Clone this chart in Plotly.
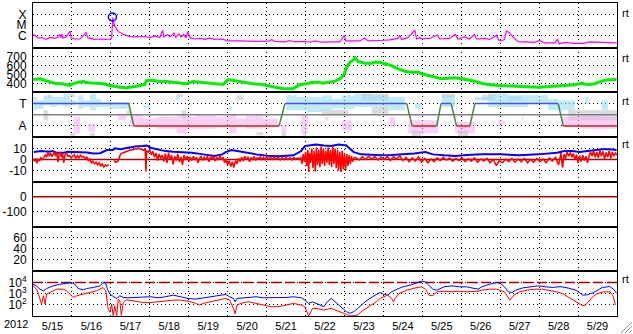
import pandas as pd
import plotly.graph_objects as go
from plotly.subplots import make_subplots

# ---------------- data (time = day of May 2012, fractional) ----------------
xray_day = [15.01,15.08,15.14,15.23,15.33,15.44,15.56,15.64,15.69,15.72,
            15.74,15.77,15.85,15.95,15.98,16.08,16.21,16.36,16.41,16.59,
            16.72,16.85,16.98,17.02,17.035,17.05,17.07,17.10,17.19,17.32,
            17.49,17.66,17.87,18.00,18.13,18.26,18.33,18.36,18.46,18.52,
            18.62,18.67,18.75,18.80,18.87,18.93,18.98,19.03,19.16,19.29,
            19.41,19.54,19.67,19.80,19.90,19.98,20.31,20.57,20.83,21.08,
            21.13,21.21,21.47,21.59,21.72,21.98,22.11,22.24,22.42,22.62,
            22.88,23.00,23.03,23.13,23.39,23.52,23.60,23.90,24.16,24.38,
            24.42,24.47,24.62,24.81,24.85,24.93,24.98,25.19,25.39,25.44,
            25.70,25.85,25.91,26.09,26.21,26.34,26.39,26.60,26.73,26.91,
            26.96,27.03,27.11,27.16,27.24,27.34,27.46,27.62,27.88,28.01,
            28.14,28.40,28.47,28.52,28.65,28.91,29.16,29.29,29.55,29.81,
            29.99]
xray_log10 = [-5.85,-6.10,-6.24,-6.15,-6.33,-6.15,-6.24,-6.10,-5.87,-6.19,
              -5.82,-6.19,-6.10,-5.55,-6.19,-6.29,-6.29,-5.70,-6.19,-6.33,
              -6.29,-6.33,-6.29,-6.20,-5.00,-4.29,-4.70,-5.08,-5.61,-5.85,
              -6.07,-6.10,-6.06,-6.19,-6.01,-6.15,-5.48,-6.10,-5.87,-6.10,
              -5.73,-6.15,-5.80,-6.10,-5.87,-6.19,-5.61,-6.19,-6.29,-6.24,
              -6.33,-6.22,-6.33,-6.29,-6.33,-6.47,-6.47,-6.52,-6.52,-6.47,
              -6.33,-6.52,-6.56,-6.43,-6.56,-6.52,-6.59,-6.47,-6.59,-6.56,
              -6.56,-5.94,-6.47,-6.47,-6.47,-6.19,-6.47,-6.43,-6.38,-6.24,
              -5.94,-6.33,-6.19,-5.48,-6.29,-6.15,-6.29,-6.24,-5.92,-6.29,
              -6.24,-5.87,-6.29,-6.10,-6.29,-5.87,-6.29,-6.24,-6.33,-5.94,
              -6.38,-6.47,-6.33,-5.55,-5.73,-6.15,-6.54,-6.56,-6.61,-6.43,
              -6.66,-6.66,-6.33,-6.75,-6.61,-6.70,-6.70,-6.56,-6.61,-6.66,
              -6.66]
flare_day = [17.04]
flare_log10 = [-4.25]

speed_day = [15.01,15.18,15.31,15.44,15.56,15.74,15.86,15.95,16.03,16.16,
             16.29,16.42,16.63,16.80,16.98,17.10,17.23,17.40,17.53,17.66,
             17.87,17.92,18.09,18.26,18.43,18.60,18.77,18.94,19.11,19.29,
             19.46,19.71,19.88,20.01,20.14,20.31,20.48,20.65,20.91,21.08,
             21.25,21.42,21.68,21.77,21.85,22.02,22.19,22.36,22.42,22.59,
             22.76,22.89,22.97,23.06,23.14,23.23,23.27,23.36,23.53,23.70,
             23.78,23.91,24.04,24.21,24.38,24.55,24.73,24.90,24.98,25.15,
             25.32,25.50,25.67,25.84,26.01,26.18,26.35,26.52,26.69,26.95,
             27.21,27.55,27.98,28.40,28.66,28.92,29.09,29.26,29.43,29.60,
             29.77,29.99]
speed_val = [444,452,433,414,403,397,389,378,397,414,
             422,408,403,397,378,367,359,352,359,370,
             389,433,433,422,422,414,408,397,422,414,
             408,397,389,444,433,422,408,397,386,370,
             352,341,341,367,386,397,414,414,403,414,
             426,452,489,581,637,663,686,644,626,626,
             637,637,619,600,563,537,526,526,508,489,
             470,452,459,463,452,441,426,403,389,378,
             370,367,359,367,378,386,403,386,397,426,
             441,444]

sector_day = [15.00,17.46,17.59,21.32,21.47,24.60,24.74,25.37,25.48,25.74,25.88,26.22,26.35,28.49,28.62,30.00]
sector_val = [1,1,-1,-1,1,1,-1,-1,1,1,-1,-1,1,1,-1,-1]

# (start day, end day, low, high) of the scattered angle points
blue_cells = [(15.01,15.09,0.40,1.59),(15.09,15.27,0.55,1.29),(15.27,15.44,0.85,1.74),(15.44,15.61,0.70,1.59),
              (15.61,15.78,0.85,1.59),(15.78,15.95,0.70,1.89),(15.95,16.12,0.85,1.29),(16.16,16.29,0.55,1.74),
              (16.29,16.46,0.70,1.29),(16.46,16.63,0.40,1.89),(16.63,16.76,0.70,1.44),(16.76,16.98,0.70,1.15),
              (16.98,17.49,0.55,1.15),(17.83,18.00,0.64,0.85),(18.67,18.74,1.29,1.74),(20.04,20.11,0.40,0.76),
              (21.51,21.77,0.40,1.74),(21.77,22.02,0.40,1.59),(22.02,22.42,0.25,1.59),(22.42,22.67,0.40,1.74),
              (22.67,22.93,0.55,1.44),(22.93,23.27,0.55,1.74),(23.27,23.70,0.70,1.89),(23.70,24.13,0.70,1.74),
              (24.13,24.55,0.40,1.59),(24.81,24.98,0.55,1.00),(25.50,25.84,0.70,1.74),(26.35,26.69,1.29,1.59),
              (26.69,27.21,0.70,1.89),(27.21,27.72,0.70,1.74),(27.72,28.23,1.00,1.74),(28.23,28.49,0.40,1.44),
              (28.49,28.92,0.40,1.29),(29.17,29.26,1.00,1.59),(29.60,29.77,0.40,1.29)]
pink_cells = [(16.04,16.21,-1.68,-0.19),(16.42,16.59,-1.53,-0.79),(17.19,17.40,-0.49,-0.04),(17.49,17.83,-1.09,-0.04),
              (17.83,18.17,-1.09,-0.34),(18.17,18.69,-1.24,-0.19),(18.69,18.94,-1.68,0.10),(18.94,19.20,-1.24,-0.19),
              (19.20,19.71,-1.24,-0.04),(19.71,20.06,-1.09,-0.19),(20.06,20.23,-1.68,0.10),(20.23,20.48,-1.09,-0.34),
              (20.48,20.91,-1.24,-0.04),(20.91,21.30,-1.09,-0.34),(21.38,21.51,-1.68,-0.94),(21.89,22.06,-1.68,-0.04),
              (22.50,22.59,-0.49,-0.19),(22.93,23.19,-1.38,-0.49),(24.17,24.30,-1.09,-0.19),(24.64,25.41,-1.68,-0.49),
              (25.84,26.35,-1.68,-0.64),(26.95,27.12,-0.85,-0.49),(27.55,27.59,-0.49,-0.19),(28.58,29.09,-1.09,-0.19),
              (29.09,29.60,-1.24,-0.04),(29.60,29.99,-1.24,-0.19)]
gray_cells = [(15.27,15.39,-0.49,0.40),(15.39,15.48,1.53,1.80),(15.95,16.08,1.59,1.89),(15.95,16.08,-2.0,-1.62),
              (16.46,16.59,-2.0,-1.62),(17.40,17.49,-0.04,0.40),(18.69,18.86,1.59,1.89),(18.82,18.94,-0.34,0.40),
              (20.23,20.40,1.29,1.74),(20.74,20.91,-1.83,-1.53),(21.38,21.51,-2.0,-1.62),(21.94,22.02,-2.0,-1.68),
              (22.42,23.10,-0.04,0.46),(23.44,24.13,1.29,1.89),(23.70,24.13,0.10,0.70),(24.73,24.98,-2.0,-1.38),
              (25.50,25.84,1.53,1.89),(25.92,26.18,-2.0,-1.38),(26.52,26.86,1.29,1.80),(27.21,27.55,1.29,1.65),
              (28.75,29.99,-0.49,0.40)]

bt_points = [(15.02,6.8),(15.21,7.7),(15.41,7.1),(15.50,7.7),(15.60,6.2),(15.79,6.2),(15.89,7.1),(15.99,7.1),
             (16.18,7.1),(16.39,6.5),(16.55,5.6),(16.72,5.8),(16.90,8.7),(17.05,8.7),(17.10,10.2),(17.25,9.5),
             (17.44,10.8),(17.63,12.0),(17.82,12.3),(17.92,12.9),(18.02,10.8),(18.21,9.3),(18.40,7.7),(18.60,7.1),
             (18.79,6.8),(19.08,6.2),(19.37,4.7),(19.66,3.2),(19.86,4.7),(19.95,6.8),(20.10,8.7),(20.24,7.7),
             (20.44,6.2),(20.73,4.7),(21.02,3.5),(21.31,3.0),(21.50,3.5),(21.69,3.8),(21.89,7.7),(21.98,12.3),
             (22.08,12.9),(22.27,13.8),(22.47,12.9),(22.66,12.3),(22.85,13.8),(23.05,12.9),(23.14,9.9),(23.24,6.8),
             (23.43,4.7),(23.63,4.1),(23.92,3.8),(24.21,4.1),(24.50,4.7),(24.79,5.6),(25.08,6.8),(25.27,4.7),
             (25.56,3.8),(25.85,3.2),(26.14,4.1),(26.53,4.7),(27.01,4.7),(27.49,3.8),(27.98,4.7),(28.46,6.2),
             (28.66,7.7),(28.85,7.7),(29.04,6.8),(29.24,7.7),(29.43,8.7),(29.62,9.3),(29.82,9.3),(29.99,8.7)]

bz_points = [(15.00,0.5),(15.04,-1.5),(15.07,1.0),(15.10,-3.5),(15.13,0.0),(15.17,-1.0),(15.20,1.5),(15.24,0.0),
             (15.28,2.0),(15.32,4.5),(15.35,2.0),(15.38,6.5),(15.42,3.0),(15.45,6.0),(15.49,2.5),(15.52,5.5),
             (15.55,7.0),(15.58,3.0),(15.61,6.5),(15.64,-2.5),(15.67,5.0),(15.70,6.5),(15.73,2.0),(15.76,6.0),
             (15.79,-3.0),(15.82,4.0),(15.86,6.0),(15.90,3.0),(15.94,3.5),(15.98,1.5),(16.02,3.0),(16.06,4.5),
             (16.10,1.0),(16.14,3.5),(16.18,1.5),(16.22,4.0),(16.26,2.0),(16.30,3.0),(16.34,0.5),(16.38,2.5),
             (16.42,-1.0),(16.46,0.5),(16.50,-3.0),(16.54,-1.5),(16.58,-4.0),(16.62,-2.5),(16.66,-5.0),(16.70,-3.0),
             (16.74,-6.0),(16.78,-4.0),(16.82,-7.0),(16.86,-5.0),(16.90,-6.0),(16.94,-4.5),(16.98,None),
             (17.08,-1.0),(17.13,-2.5),(17.18,-1.5),(17.25,5.0),(17.30,6.0),(17.36,7.0),(17.42,8.0),(17.48,8.5),
             (17.55,9.0),(17.62,9.5),(17.70,10.0),(17.78,9.5),(17.84,8.5),(17.88,10.0),(17.90,-11.0),(17.92,8.0),
             (17.96,7.0),(18.00,9.0),(18.04,4.0),(18.08,7.5),(18.12,2.0),(18.16,6.0),(18.20,-1.0),(18.24,5.0),
             (18.28,1.0),(18.32,4.0),(18.36,-2.0),(18.40,5.5),(18.44,-3.0),(18.48,6.0),(18.52,0.0),(18.56,4.0),
             (18.60,-4.5),(18.64,3.0),(18.68,-1.0),(18.72,5.0),(18.76,-2.5),(18.80,2.5),(18.84,-5.0),(18.88,4.0),
             (18.92,0.0),(18.96,3.0),(19.00,-2.0),(19.04,2.5),(19.08,-1.0),(19.12,3.0),(19.16,0.0),(19.20,2.0),
             (19.24,-3.0),(19.28,1.0),(19.32,3.0),(19.36,-1.0),(19.40,2.0),(19.44,0.0),(19.48,3.0),(19.52,-2.0),
             (19.56,2.5),(19.60,0.5),(19.64,3.0),(19.68,-1.5),(19.72,2.0),(19.76,-0.5),(19.80,3.5),(19.84,0.0),
             (19.88,2.0),(19.92,-3.0),(19.96,0.0),(20.00,-5.0),(20.04,-1.0),(20.08,-6.5),(20.12,-2.0),(20.16,-7.5),
             (20.20,-1.0),(20.24,-4.0),(20.28,1.0),(20.32,-2.0),(20.36,2.0),(20.40,-1.5),(20.44,3.0),(20.48,0.0),
             (20.52,2.5),(20.56,-2.0),(20.60,2.0),(20.64,0.0),(20.68,3.0),(20.72,-1.0),(20.76,1.5),(20.80,0.5),
             (20.84,2.5),(20.88,0.0),(20.92,2.0),(20.96,-0.5),(21.00,2.5),(21.05,0.5),(21.10,2.0),(21.15,0.0),
             (21.20,2.5),(21.25,0.5),(21.30,2.0),(21.35,-0.5),(21.40,1.5),(21.45,0.0),(21.50,2.0),(21.55,0.0),
             (21.60,1.5),(21.65,-0.5),(21.70,2.0),(21.75,0.5),(21.80,1.5),(21.84,0.0),(21.88,2.0),(21.91,-4.0),
             (21.94,5.0),(21.97,-2.0),(22.00,7.0),(22.03,-6.0),(22.06,9.0),(22.08,-11.5),(22.10,6.0),(22.13,-3.0),
             (22.16,10.0),(22.19,-8.0),(22.22,8.0),(22.25,-11.0),(22.28,11.0),(22.31,-5.0),(22.34,9.0),(22.37,-7.0),
             (22.40,12.0),(22.43,-4.0),(22.46,10.0),(22.49,-6.0),(22.52,8.0),(22.55,-3.0),(22.58,11.0),(22.61,-5.0),
             (22.64,9.0),(22.67,-7.0),(22.70,12.0),(22.73,-4.0),(22.76,10.0),(22.79,-8.0),(22.82,9.0),(22.85,-10.0),
             (22.88,7.0),(22.91,-11.5),(22.94,8.0),(22.97,-9.0),(23.00,6.0),(23.03,-10.0),(23.06,5.0),(23.09,-6.0),
             (23.12,4.0),(23.15,-4.0),(23.18,3.0),(23.21,-2.0),(23.25,2.0),(23.30,1.5),(23.38,-0.5),(23.46,2.5),
             (23.54,0.0),(23.62,3.0),(23.70,0.5),(23.78,2.5),(23.86,-0.5),(23.94,2.0),(24.02,0.0),(24.10,3.0),
             (24.18,-1.0),(24.26,2.5),(24.34,0.5),(24.42,3.5),(24.50,-1.0),(24.58,2.0),(24.66,-2.0),(24.74,1.5),
             (24.82,-1.5),(24.90,2.5),(24.98,-2.5),(25.06,1.0),(25.14,-3.0),(25.22,0.5),(25.30,-2.0),(25.38,1.5),
             (25.46,-1.0),(25.54,2.0),(25.62,-0.5),(25.70,1.5),(25.78,-1.5),(25.86,1.0),(25.94,-1.0),(26.02,1.5),
             (26.10,-2.0),(26.18,1.0),(26.26,-1.5),(26.34,1.5),(26.42,-2.5),(26.50,0.5),(26.58,-1.5),(26.66,1.0),
             (26.74,-3.0),(26.82,0.0),(26.90,-5.5),(26.98,-1.0),(27.06,-3.0),(27.14,0.5),(27.22,-2.0),(27.30,1.0),
             (27.38,-2.5),(27.46,0.5),(27.54,-2.0),(27.62,1.0),(27.70,-3.0),(27.78,0.0),(27.86,-2.5),(27.94,1.0),
             (28.02,-2.0),(28.10,0.5),(28.18,-3.0),(28.26,1.5),(28.34,-1.5),(28.42,2.0),(28.50,-5.0),(28.56,6.0),
             (28.60,-7.5),(28.64,5.0),(28.68,1.0),(28.72,7.0),(28.76,3.0),(28.80,6.5),(28.84,2.0),(28.88,5.5),
             (28.92,0.0),(28.96,4.5),(29.00,-3.0),(29.04,3.5),(29.08,-2.0),(29.12,4.0),(29.16,-1.0),(29.20,3.0),
             (29.24,-3.0),(29.28,2.5),(29.32,7.0),(29.36,3.0),(29.40,8.0),(29.44,2.0),(29.48,7.0),(29.52,1.5),
             (29.56,8.5),(29.60,3.0),(29.64,7.5),(29.68,0.5),(29.72,6.5),(29.76,2.0),(29.80,8.0),(29.84,1.0),
             (29.88,7.0),(29.92,3.0),(29.96,6.0),(30.00,4.0)]

# electron flux, log10 values
e_blue_points = [(15.00,3.84),(15.09,3.70),(15.18,3.40),(15.27,3.25),(15.35,3.46),(15.52,3.70),(15.69,3.84),
                 (15.86,3.93),(15.99,3.99),(16.08,3.84),(16.16,3.46),(16.29,3.34),(16.38,3.46),(16.55,3.55),
                 (16.72,3.70),(16.80,3.99),(16.87,3.93),(16.91,3.40),(16.98,2.96),(17.06,2.75),(17.15,2.57),
                 (17.23,2.81),(17.32,2.66),(17.44,2.63),(17.63,2.63),(17.82,2.69),(18.02,2.72),(18.21,2.63),
                 (18.40,2.72),(18.60,2.87),(18.79,2.72),(18.98,2.57),(19.18,2.51),(19.37,2.63),(19.56,2.72),
                 (19.76,2.87),(19.95,2.93),(20.05,2.72),(20.15,2.57),(20.19,2.27),(20.24,2.57),(20.44,2.63),
                 (20.73,2.72),(20.92,2.63),(21.21,2.63),(21.50,2.66),(21.69,2.72),(21.89,2.63),(21.98,2.42),
                 (22.08,2.13),(22.18,2.27),(22.27,2.13),(22.37,1.98),(22.47,1.83),(22.56,2.27),(22.66,2.57),
                 (22.76,2.27),(22.85,1.98),(22.95,1.68),(23.05,1.39),(23.14,1.24),(23.24,1.39),(23.34,1.68),
                 (23.43,1.98),(23.53,2.27),(23.63,2.51),(23.72,2.72),(23.82,2.93),(23.92,3.10),(24.01,2.93),
                 (24.11,2.87),(24.21,3.16),(24.35,3.40),(24.50,3.61),(24.69,3.76),(24.79,3.90),(24.88,4.05),
                 (24.98,4.12),(25.08,4.05),(25.17,3.76),(25.27,3.40),(25.37,3.31),(25.46,3.46),(25.56,3.61),
                 (25.76,3.70),(25.95,3.61),(26.14,3.61),(26.34,3.46),(26.43,3.40),(26.53,3.61),(26.72,3.84),
                 (26.91,3.99),(27.01,3.90),(27.11,3.61),(27.21,3.16),(27.30,3.10),(27.40,3.31),(27.59,3.52),
                 (27.79,3.61),(27.98,3.70),(28.17,3.61),(28.37,3.55),(28.46,3.60),(28.56,3.62),(28.75,3.50),
                 (28.95,3.30),(29.12,2.87),(29.24,2.90),(29.40,3.10),(29.62,3.55),(29.81,3.64),(29.91,3.40),
                 (29.99,3.04)]
e_red_points = [(15.00,3.70),(15.09,3.40),(15.14,2.96),(15.18,2.51),(15.22,2.07),(15.27,2.81),(15.31,2.07),
                (15.35,2.96),(15.44,3.10),(15.61,3.40),(15.78,3.40),(15.86,3.25),(15.95,2.96),(16.03,2.66),
                (16.12,2.81),(16.29,2.96),(16.46,3.10),(16.63,3.25),(16.72,3.40),(16.80,3.55),(16.87,3.25),
                (16.89,2.51),(16.93,1.62),(16.98,1.33),(17.02,2.07),(17.06,1.03),(17.10,1.92),(17.15,1.03),
                (17.19,2.51),(17.23,2.36),(17.27,1.03),(17.32,2.21),(17.40,2.45),(17.57,2.36),(17.74,2.27),
                (17.82,2.20),(18.02,2.20),(18.21,2.27),(18.40,2.33),(18.60,2.42),(18.79,2.42),(18.98,2.33),
                (19.18,2.13),(19.27,1.98),(19.37,2.13),(19.56,2.27),(19.76,2.42),(19.95,2.57),(20.05,2.42),
                (20.15,1.68),(20.19,1.20),(20.24,1.98),(20.34,2.13),(20.53,2.27),(20.73,2.13),(20.92,1.98),
                (21.11,1.83),(21.31,1.83),(21.50,1.98),(21.69,2.13),(21.89,1.98),(21.98,1.83),(22.08,1.00),
                (22.18,1.68),(22.27,1.68),(22.47,1.53),(22.66,1.68),(22.76,1.53),(22.85,1.39),(22.95,1.24),
                (23.05,1.09),(23.14,1.02),(23.24,1.02),(23.34,1.09),(23.43,1.39),(23.53,1.62),(23.63,1.83),
                (23.72,1.98),(23.82,2.27),(23.92,2.57),(24.01,2.72),(24.11,2.87),(24.21,2.57),(24.26,2.27),
                (24.30,2.57),(24.40,3.01),(24.50,3.16),(24.59,3.31),(24.79,3.49),(24.98,3.61),(25.08,3.40),
                (25.17,2.87),(25.27,2.81),(25.37,3.16),(25.56,3.22),(25.76,3.16),(25.95,3.22),(26.14,3.16),
                (26.43,3.22),(26.53,3.31),(26.72,3.40),(26.91,3.40),(27.11,3.16),(27.21,2.57),(27.25,2.42),
                (27.35,2.87),(27.49,3.16),(27.69,3.31),(27.88,3.40),(28.08,3.40),(28.27,3.31),(28.46,3.16),
                (28.60,3.00),(28.75,2.70),(28.90,2.35),(29.04,2.05),(29.12,1.92),(29.19,1.98),(29.27,2.30),
                (29.40,2.80),(29.50,3.00),(29.65,3.16),(29.82,3.16),(29.90,2.80),(29.96,1.98)]

e_threshold = 1e4
zero_level = 0

assert len(xray_day) == len(xray_log10)
assert len(speed_day) == len(speed_val)
assert len(sector_day) == len(sector_val)

# ---------------- helpers ----------------
BASE = pd.Timestamp("2012-05-01")
def t(d):
    return BASE + pd.to_timedelta(d - 1, unit="D")

T0, T1 = t(15.0), t(30.0)

def cell_polys(cells):
    xs, ys = [], []
    for a, b, lo, hi in cells:
        xs += [t(a), t(b), t(b), t(a), t(a), None]
        ys += [lo, lo, hi, hi, lo, None]
    return xs, ys

FONT = "Liberation Sans, Arial, Helvetica, sans-serif"
DOT = "1px,3px"

fig = make_subplots(rows=7, cols=1, shared_xaxes=True, vertical_spacing=0)

# row 1: X-ray
fig.add_trace(go.Scatter(x=[t(d) for d in xray_day], y=[10 ** v for v in xray_log10], mode="lines",
                         line=dict(color="#ff00ff", width=1.2)), row=1, col=1)
fig.add_trace(go.Scatter(x=[t(d) for d in flare_day], y=[10 ** v for v in flare_log10], mode="markers",
                         marker=dict(symbol="circle-open", size=8, color="#0000ff", line=dict(width=1.5))),
              row=1, col=1)

# row 2: solar wind speed
fig.add_trace(go.Scatter(x=[t(d) for d in speed_day], y=speed_val, mode="lines",
                         line=dict(color="#00ee00", width=3)), row=2, col=1)

# row 3: sector panel (scattered angle points shown as pale patches)
for cells, col in [(gray_cells, "rgba(190,190,190,0.55)"), (blue_cells, "rgba(150,220,246,0.6)"),
                   (pink_cells, "rgba(244,170,244,0.55)")]:
    cx, cy = cell_polys(cells)
    fig.add_trace(go.Scatter(x=cx, y=cy, mode="lines", fill="toself", fillcolor=col,
                             line=dict(width=0, color=col)), row=3, col=1)
fig.add_trace(go.Scatter(x=[T0, T1], y=[zero_level, zero_level], mode="lines",
                         line=dict(color="#808080", width=1.5)), row=3, col=1)
seg = {"#4455dd": ([], []), "#dd2222": ([], []), "#448844": ([], [])}
for i in range(len(sector_day) - 1):
    a, b = sector_val[i], sector_val[i + 1]
    c = ("#4455dd" if a > 0 else "#dd2222") if a == b else "#448844"
    seg[c][0].extend([t(sector_day[i]), t(sector_day[i + 1]), None])
    seg[c][1].extend([a, b, None])
for c, (sx, sy) in seg.items():
    fig.add_trace(go.Scatter(x=sx, y=sy, mode="lines", line=dict(color=c, width=1.5)), row=3, col=1)

# row 4: IMF
fig.add_trace(go.Scatter(x=[T0, T1], y=[zero_level, zero_level], mode="lines",
                         line=dict(color="#aa0000", width=1.5)), row=4, col=1)
fig.add_trace(go.Scatter(x=[t(p[0]) for p in bt_points], y=[p[1] for p in bt_points], mode="lines",
                         line=dict(color="#0000ff", width=2)), row=4, col=1)
fig.add_trace(go.Scatter(x=[t(p[0]) for p in bz_points], y=[p[1] for p in bz_points], mode="lines",
                         line=dict(color="#ff0000", width=1.5), connectgaps=False), row=4, col=1)

# row 5: zero line only
fig.add_trace(go.Scatter(x=[T0, T1], y=[zero_level, zero_level], mode="lines",
                         line=dict(color="#aa0000", width=1.5)), row=5, col=1)

# row 6: empty panel (no data) - placeholder so the axes are drawn
fig.add_trace(go.Scatter(x=[T0], y=[None], mode="lines", line=dict(width=0)), row=6, col=1)

# row 7: electrons
fig.add_trace(go.Scatter(x=[T0, T1], y=[e_threshold, e_threshold], mode="lines",
                         line=dict(color="#aa0000", width=1.5, dash="10px,4px")), row=7, col=1)
fig.add_trace(go.Scatter(x=[t(p[0]) for p in e_blue_points], y=[10 ** p[1] for p in e_blue_points],
                         mode="lines", line=dict(color="#0000ff", width=1)), row=7, col=1)
fig.add_trace(go.Scatter(x=[t(p[0]) for p in e_red_points], y=[10 ** p[1] for p in e_red_points],
                         mode="lines", line=dict(color="#ff0000", width=1)), row=7, col=1)

# ---------------- axes ----------------
for r in range(1, 8):
    fig.update_xaxes(row=r, col=1, range=[T0, T1], showline=True, linecolor="black", linewidth=1,
                     mirror=True, zeroline=False, ticks="",
                     tickmode="linear", tick0=T0, dtick=86400000, ticklabelmode="period",
                     tickformat="%-m/%-d", tickfont=dict(size=11, color="black", family=FONT),
                     showgrid=True, gridcolor="black", griddash=DOT, gridwidth=1)

ycommon = dict(showline=True, linecolor="black", linewidth=1, mirror=True, zeroline=False,
               showgrid=True, gridcolor="black", griddash=DOT, gridwidth=1,
               ticks="outside", ticklen=3, tickcolor="rgba(0,0,0,0)",
               tickfont=dict(size=12, color="black", family=FONT), tickmode="array")
fig.update_yaxes(row=1, col=1, type="log", range=[-7.1, -2.95], tickvals=[1e-6, 1e-5, 1e-4],
                 ticktext=["C", "M", "X"], **ycommon)
fig.update_yaxes(row=2, col=1, range=[300, 800], tickvals=[400, 500, 600, 700],
                 ticktext=["400", "500", "600", "700"], **ycommon)
fig.update_yaxes(row=3, col=1, range=[-2, 2], tickvals=[-1, 1], ticktext=["A", "T"], **ycommon)
fig.update_yaxes(row=4, col=1, range=[-20.5, 20.5], tickvals=[-10, 0, 10],
                 ticktext=["-10", "0", "10"], **ycommon)
fig.update_yaxes(row=5, col=1, range=[-200, 100], tickvals=[-100, 0], ticktext=["-100", "0"], **ycommon)
fig.update_yaxes(row=6, col=1, range=[-1.5, 80.5], tickvals=[20, 40, 60], ticktext=["20", "40", "60"], **ycommon)
fig.update_yaxes(row=7, col=1, type="log", range=[1, 5], tickvals=[1e2, 1e3, 1e4],
                 ticktext=["10<sup>2</sup>", "10<sup>3</sup>", "10<sup>4</sup>"], **ycommon)

# ---------------- annotations ----------------
L, R, TOP, BOT = 33, 617, 2, 317
def px(xp): return (xp - L) / (R - L)
def py(yp): return (BOT - yp) / (BOT - TOP)

ann = [dict(text="2012", x=px(16), y=py(325), xref="paper", yref="paper", showarrow=False,
            xanchor="center", yanchor="middle", font=dict(size=11, color="black", family=FONT))]
for yy in [12, 57, 101, 144, 280]:
    ann.append(dict(text="rt", x=px(620), y=py(yy), xref="paper", yref="paper", showarrow=False,
                    xanchor="left", yanchor="middle", font=dict(size=11, color="black", family=FONT)))

shapes = []
for (x0, y0, x1, y1) in [(632, 323, 621, 334), (632, 327, 625, 334), (632, 331, 629, 334)]:
    shapes.append(dict(type="line", xref="paper", yref="paper", x0=px(x0), y0=py(y0), x1=px(x1), y1=py(y1),
                       line=dict(color="#909090", width=1)))

fig.update_layout(width=633, height=334, margin=dict(l=L, r=633 - R, t=TOP, b=334 - BOT),
                  plot_bgcolor="white", paper_bgcolor="white", showlegend=False,
                  font=dict(family=FONT, size=12, color="black"), annotations=ann, shapes=shapes)

fig.write_html("out.html")
